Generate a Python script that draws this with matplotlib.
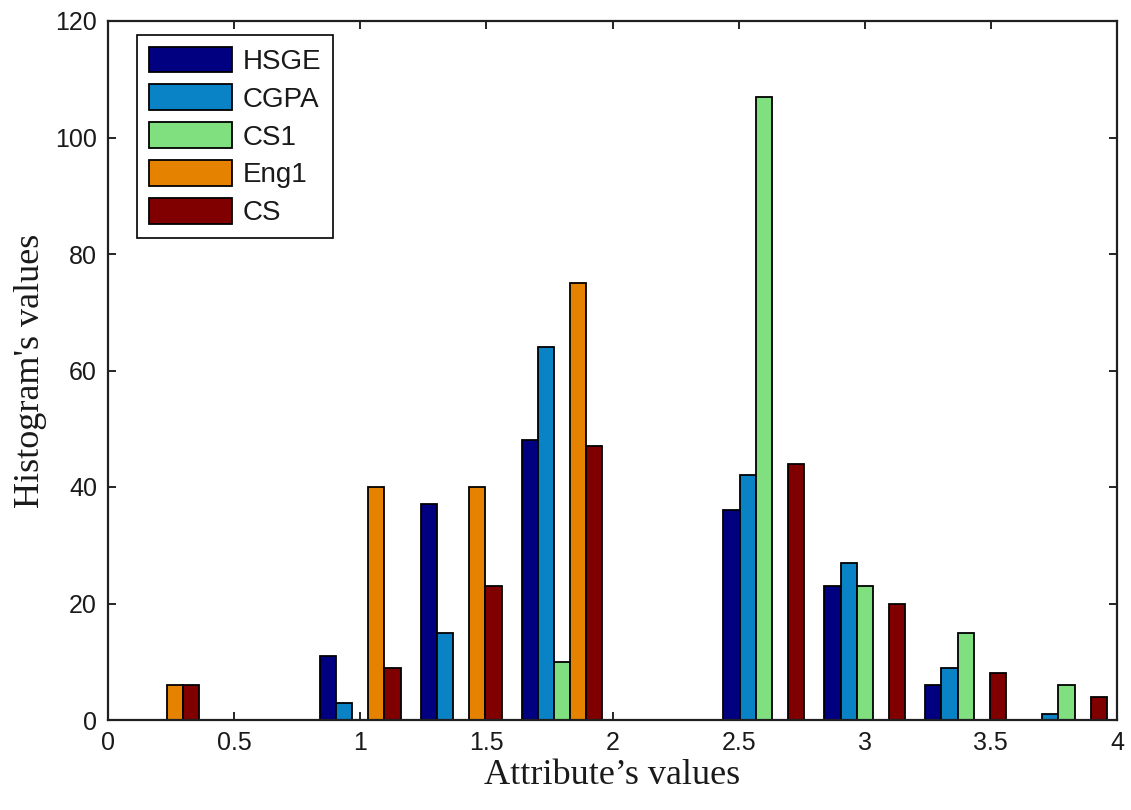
import numpy as np
import matplotlib
matplotlib.use("Agg")
import matplotlib.pyplot as plt

# Bin centres of the histogram and per-attribute counts
bin_centers = [0.2, 0.6, 1.0, 1.4, 1.8, 2.2, 2.6, 3.0, 3.4, 3.8]
hsge = [0, 0, 11, 37, 48, 0, 36, 23, 6, 0]
cgpa = [0, 0, 3, 15, 64, 0, 42, 27, 9, 1]
cs1 = [0, 0, 0, 0, 10, 0, 107, 23, 15, 6]
eng1 = [6, 0, 40, 40, 75, 0, 0, 0, 0, 0]
cs = [6, 0, 9, 23, 47, 0, 44, 20, 8, 4]

series_names = ["HSGE", "CGPA", "CS1", "Eng1", "CS"]
series_colors = ["#000080", "#0A82C6", "#80E080", "#E58200", "#800000"]

x_ticks = [0, 0.5, 1, 1.5, 2, 2.5, 3, 3.5, 4]
x_tick_labels = ["0", "0.5", "1", "1.5", "2", "2.5", "3", "3.5", "4"]
y_ticks = [0, 20, 40, 60, 80, 100, 120]

W, H = 1131, 810
fig = plt.figure(figsize=(W / 100, H / 100), dpi=100)
ax = fig.add_axes([108 / W, 1 - 720 / H, (1117 - 108) / W, (720 - 21) / H])

data = [hsge, cgpa, cs1, eng1, cs]
centers = np.array(bin_centers)
spacing = 0.4
group_width = 0.8 * spacing
bar_w = group_width / len(data)

for i, (vals, name, col) in enumerate(zip(data, series_names, series_colors)):
    offs = (i - (len(data) - 1) / 2) * bar_w
    ax.bar(centers + offs, vals, width=bar_w, color=col, edgecolor="black",
           linewidth=1.3, label=name, zorder=2)

ax.set_xlim(0, 4)
ax.set_ylim(0, 120)
ax.set_xticks(x_ticks)
ax.set_xticklabels(x_tick_labels)
ax.set_yticks(y_ticks)

tick_font = "Liberation Sans"
ax.tick_params(direction="in", length=6, width=1.2, top=True, right=True,
               labelsize=18, pad=8, colors="black")
for lab in ax.get_xticklabels() + ax.get_yticklabels():
    lab.set_fontfamily(tick_font)
    lab.set_color("#1a1a1a")

for sp in ax.spines.values():
    sp.set_linewidth(1.6)
    sp.set_color("#202020")

ax.set_xlabel("Attribute\u2019s values", fontfamily="Liberation Serif",
              fontsize=26, labelpad=3, color="#1a1a1a")
ax.set_ylabel("Histogram's values", fontfamily="Liberation Serif",
              fontsize=26, labelpad=6, color="#1a1a1a")

leg = ax.legend(loc="upper left", bbox_to_anchor=(137 / W, 1 - 35 / H),
                bbox_transform=fig.transFigure, borderaxespad=0,
                fancybox=False, framealpha=1, edgecolor="black",
                prop={"family": tick_font, "size": 20},
                handlelength=3.0, handleheight=1.05, handletextpad=0.38,
                labelspacing=0.34, borderpad=0.42)
leg.get_frame().set_linewidth(1.2)
for t in leg.get_texts():
    t.set_color("#1a1a1a")

fig.savefig("out.png", dpi=100)
